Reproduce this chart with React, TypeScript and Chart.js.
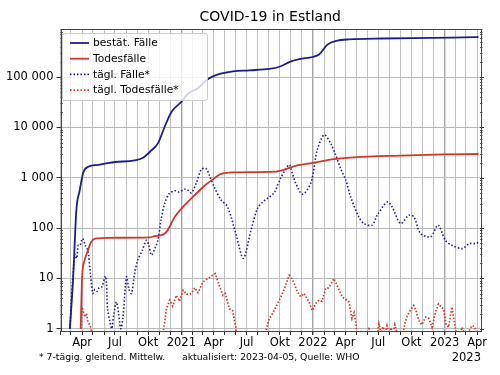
import React, { useEffect, useRef } from 'react';
import { Chart, registerables } from 'chart.js';

Chart.register(...registerables);

// ---- data ----
const casesDates = [
  '2020-02-27', '2020-03-07', '2020-03-16', '2020-03-25', '2020-04-04', '2020-04-18', '2020-05-15',
  '2020-06-03', '2020-07-01', '2020-08-25', '2020-09-17', '2020-10-10', '2020-10-28', '2020-11-16',
  '2020-12-05', '2021-01-01', '2021-01-20', '2021-02-16', '2021-03-07', '2021-03-20', '2021-04-17',
  '2021-05-24', '2021-07-09', '2021-09-02', '2021-09-30', '2021-11-01', '2021-11-24', '2021-12-31',
  '2022-01-18', '2022-02-10', '2022-03-09', '2022-04-11', '2022-07-12', '2022-11-27', '2023-03-27',
  '2023-04-05',
];
const casesValues = [
  1, 10, 228, 550, 1250, 1650, 1800,
  1900, 2050, 2200, 2500, 3500, 4800, 10400,
  20500, 32000, 47000, 60000, 81000, 95000, 115000,
  130000, 136000, 145000, 160000, 205000, 228000, 250000,
  280000, 440000, 530000, 560000, 583000, 600000, 620000,
  621000,
];

const deathsDates = [
  '2020-03-28', '2020-04-01', '2020-04-08', '2020-04-17', '2020-04-26', '2020-05-10', '2020-06-16',
  '2020-10-05', '2020-10-19', '2020-11-07', '2020-11-21', '2020-12-14', '2021-01-10', '2021-02-07',
  '2021-03-07', '2021-04-02', '2021-04-21', '2021-05-28', '2021-09-16', '2021-10-14', '2021-11-11',
  '2022-01-05', '2022-03-01', '2022-04-25', '2022-09-01', '2022-12-30', '2023-04-05',
];
const deathsValues = [
  1, 10.7, 23, 36, 53, 62, 64,
  65, 69, 72, 84, 167, 285, 450,
  700, 970, 1190, 1280, 1320, 1450, 1700,
  1990, 2330, 2540, 2750, 2900, 2960,
];

const dailyCasesDates = [
  '2020-02-27', '2020-03-05', '2020-03-12', '2020-03-17', '2020-03-21', '2020-03-26', '2020-04-02',
  '2020-04-10', '2020-04-17', '2020-04-24', '2020-05-01', '2020-05-06', '2020-05-12', '2020-05-18',
  '2020-05-25', '2020-06-05', '2020-06-11', '2020-06-17', '2020-06-22', '2020-06-28', '2020-07-05',
  '2020-07-11', '2020-07-17', '2020-07-23', '2020-08-02', '2020-08-09', '2020-08-16', '2020-08-24',
  '2020-09-02', '2020-09-14', '2020-09-26', '2020-10-03', '2020-10-10', '2020-10-20', '2020-10-28',
  '2020-11-06', '2020-11-16', '2020-11-28', '2020-12-14', '2020-12-26', '2021-01-10', '2021-01-20',
  '2021-01-29', '2021-02-12', '2021-02-25', '2021-03-10', '2021-03-20', '2021-04-02', '2021-04-21',
  '2021-05-09', '2021-06-01', '2021-06-22', '2021-07-13', '2021-07-31', '2021-08-15', '2021-08-28',
  '2021-09-15', '2021-10-04', '2021-10-27', '2021-11-05', '2021-11-14', '2021-12-03', '2021-12-26',
  '2022-01-13', '2022-02-01', '2022-02-19', '2022-03-05', '2022-03-19', '2022-04-02', '2022-04-15',
  '2022-05-08', '2022-05-22', '2022-06-14', '2022-06-28', '2022-07-26', '2022-08-08', '2022-09-01',
  '2022-09-24', '2022-10-08', '2022-10-26', '2022-11-23', '2022-12-14', '2023-01-03', '2023-01-22',
  '2023-02-19', '2023-03-10', '2023-03-28', '2023-04-05',
];
const dailyCasesValues = [
  1, 8, 30, 25, 45, 45, 62,
  45, 36, 12, 5, 6, 5.5, 6.5,
  6.7, 11, 2.3, 1.4, 1, 2, 3.4,
  2, 1, 1.6, 10.7, 6, 5, 12,
  23, 35, 57, 45, 29, 40, 57,
  150, 310, 480, 550, 520, 590, 560,
  500, 800, 1440, 1530, 1100, 660, 360,
  265, 78, 25, 90, 245, 330, 390,
  500, 1000, 1800, 1200, 780, 470, 780,
  3600, 7100, 4800, 2800, 1500, 900, 420,
  167, 123, 114, 180, 330, 265, 123,
  180, 167, 78, 67, 114, 57, 45,
  39, 49, 49, 52,
];

const dailyDeathsDates = [
  '2020-03-29', '2020-04-01', '2020-04-05', '2020-04-09', '2020-04-13', '2020-04-17', '2020-04-22',
  '2020-04-26', '2020-04-29', '2020-05-02',
  '2020-11-09', '2020-11-13', '2020-11-21', '2020-11-30', '2020-12-08', '2020-12-18', '2020-12-27',
  '2021-01-06', '2021-01-16', '2021-01-29', '2021-02-07', '2021-02-16', '2021-03-02', '2021-03-12',
  '2021-03-29', '2021-04-05', '2021-04-14', '2021-04-26', '2021-05-03', '2021-05-14', '2021-05-23',
  '2021-06-01', '2021-06-05', '2021-06-08',
  '2021-08-21', '2021-08-25', '2021-09-02', '2021-09-11', '2021-09-21', '2021-10-04', '2021-10-13',
  '2021-10-27', '2021-11-03', '2021-11-10', '2021-11-18', '2021-11-28', '2021-12-07', '2021-12-21',
  '2021-12-30', '2022-01-09', '2022-01-18', '2022-01-26', '2022-02-05', '2022-02-14', '2022-02-28',
  '2022-03-08', '2022-03-23', '2022-04-02', '2022-04-11', '2022-04-19', '2022-04-25', '2022-04-30',
  '2022-05-04', '2022-06-01', '2022-06-05', '2022-06-09', '2022-06-27', '2022-07-03', '2022-07-09',
  '2022-07-14', '2022-07-20', '2022-07-25', '2022-07-30', '2022-08-05', '2022-08-11', '2022-08-16',
  '2022-08-27', '2022-09-04', '2022-09-13', '2022-09-19', '2022-09-26', '2022-10-07', '2022-10-13',
  '2022-10-21', '2022-10-30', '2022-11-09', '2022-11-18', '2022-11-27', '2022-12-07', '2022-12-15',
  '2022-12-24', '2022-12-29', '2023-01-05', '2023-01-12', '2023-01-21', '2023-01-31', '2023-02-09',
  '2023-02-18', '2023-02-28', '2023-03-18', '2023-03-25', '2023-03-31', '2023-04-05',
];
const dailyDeathsValues: (number | null)[] = [
  1, 2.7, 2.0, 1.7, 2.0, 1.35, 1.2,
  1, 0.7, null,
  0.7, 1, 2.5, 3.7, 2.8, 4.6, 3.5,
  5.8, 4.8, 5, 6.5, 5.2, 8.5, 9.5,
  11.5, 12.4, 8, 4.6, 5, 2.5, 2.3,
  1.07, 0.6, null,
  0.7, 1, 1.6, 2, 2.8, 4.3, 6,
  11.5, 10, 7.9, 5.5, 4.3, 5, 3.4,
  2.3, 3.2, 3.7, 3.5, 6.3, 6.5, 9.9,
  7.5, 4.3, 3.8, 3.4, 1.6, 2.1, 1.3,
  0.6, 0.6, 1.08, 0.6, 0.6, 1.25, 0.8,
  1.1, 0.8, 1.15, 0.8, 1.05, 0.8, 1.2,
  0.6, 0.6, 1.3, 1.8, 2.2, 2.9, 2.4,
  1.46, 1.2, 1.7, 1.6, 1.07, 2.2, 3.1,
  2.6, 2.5, 1.2, 1.07, 2.7, 1.0, 0.6,
  1.07, 0.7, 1.16, 1.1, 0.8, 0.9,
];

const monthNames: Record<number, string> = { 3: 'Apr', 6: 'Jul', 9: 'Okt' };
const yTickValues = [1, 10, 100, 1000, 10000, 100000];
const legendLabels = ['bestät. Fälle', 'Todesfälle', 'tägl. Fälle*', 'tägl. Todesfälle*'];
const titleText = 'COVID-19 in Estland';
const footLeft = '* 7-tägig. gleitend. Mittelw.';
const footRight = 'aktualisiert: 2023-04-05, Quelle: WHO';
const lastYearLabel = '2023';

// ---- helpers ----
const EPOCH = Date.UTC(2020, 1, 1);
const dayOf = (s: string) => {
  const [y, m, d] = s.split('-').map(Number);
  return (Date.UTC(y, m - 1, d) - EPOCH) / 86400000;
};
const toPoints = (dates: string[], vals: (number | null)[]) =>
  dates.map((d, i) => ({ x: dayOf(d), y: vals[i] as any }));

const monthTicks: { value: number; label: string; year: boolean }[] = [];
for (let y = 2020; y <= 2023; y++) {
  for (let m = 0; m < 12; m++) {
    if (y === 2020 && m < 1) continue;
    if (y === 2023 && m > 3) continue;
    const v = (Date.UTC(y, m, 1) - EPOCH) / 86400000;
    monthTicks.push({ value: v, label: m === 0 ? String(y) : monthNames[m] || '', year: m === 0 });
  }
}

const BLUE = '#1c1c8e';
const RED = '#d4352a';
const FONT = '"DejaVu Sans", Verdana, sans-serif';

const fmt = (v: number) => String(v).replace(/\B(?=(\d{3})+(?!\d))/g, ' ');
const findTick = (v: number) => monthTicks.find((m) => Math.abs(m.value - v) < 0.01);

export default function App() {
  const ref = useRef<HTMLCanvasElement>(null);
  useEffect(() => {
    document.body.style.margin = '0';
    const overlay = {
      id: 'overlay',
      afterDraw(chart: any) {
        const { ctx, chartArea: a } = chart;
        const ys = chart.scales.y;
        ctx.save();
        // minor ticks
        ctx.strokeStyle = '#333';
        ctx.lineWidth = 0.8;
        for (let e = 0; e <= 5; e++) {
          for (let k = 2; k <= 9; k++) {
            const v = k * Math.pow(10, e);
            if (v > 9e5) continue;
            const py = Math.round(ys.getPixelForValue(v)) + 0.5;
            ctx.beginPath();
            ctx.moveTo(a.left, py); ctx.lineTo(a.left + 2.5, py);
            ctx.moveTo(a.right, py); ctx.lineTo(a.right + 2.5, py);
            ctx.stroke();
          }
        }
        // right major ticks
        ctx.lineWidth = 1;
        yTickValues.forEach((v) => {
          const py = Math.round(ys.getPixelForValue(v)) + 0.5;
          ctx.beginPath(); ctx.moveTo(a.right, py); ctx.lineTo(a.right + 4, py); ctx.stroke();
        });
        // frame
        ctx.strokeStyle = '#444';
        ctx.lineWidth = 1;
        ctx.strokeRect(Math.round(a.left) + 0.5, Math.round(a.top) + 0.5, Math.round(a.right - a.left), Math.round(a.bottom - a.top));
        // legend
        const lx = 62.5, ly = 33.5, lw = 145, lh = 67;
        ctx.fillStyle = 'rgba(255,255,255,0.8)';
        ctx.strokeStyle = 'rgba(200,200,200,0.9)';
        ctx.beginPath();
        if ((ctx as any).roundRect) (ctx as any).roundRect(lx, ly, lw, lh, 2); else ctx.rect(lx, ly, lw, lh);
        ctx.fill(); ctx.stroke();
        const cols = [BLUE, RED, BLUE, RED];
        ctx.font = `10.7px ${FONT}`;
        ctx.textBaseline = 'middle';
        ctx.textAlign = 'left';
        legendLabels.forEach((t, i) => {
          const y = 43 + i * 15.7;
          ctx.strokeStyle = cols[i];
          ctx.lineWidth = i < 2 ? 1.8 : 1.6;
          ctx.setLineDash(i < 2 ? [] : [1.5, 2]);
          ctx.beginPath(); ctx.moveTo(70, y); ctx.lineTo(89, y); ctx.stroke();
          ctx.setLineDash([]);
          ctx.fillStyle = '#000';
          ctx.fillText(t, 93, y + 0.5);
        });
        // title
        ctx.font = `14px ${FONT}`;
        ctx.textAlign = 'center';
        ctx.fillStyle = '#000';
        ctx.fillText(titleText, (a.left + a.right) / 2, 17);
        // footers
        ctx.font = `9.3px ${FONT}`;
        ctx.textAlign = 'left';
        ctx.fillText(footLeft, 39, 358);
        ctx.fillText(footRight, 182, 358);
        ctx.font = `11.5px ${FONT}`;
        ctx.textAlign = 'right';
        ctx.fillText(lastYearLabel, 481, 358);
        ctx.restore();
      },
    };

    const chart = new Chart(ref.current!, {
      type: 'line',
      data: {
        datasets: [
          { label: legendLabels[0], data: toPoints(casesDates, casesValues), borderColor: BLUE, borderWidth: 1.8, pointRadius: 0, cubicInterpolationMode: 'monotone' } as any,
          { label: legendLabels[1], data: toPoints(deathsDates, deathsValues), borderColor: RED, borderWidth: 1.8, pointRadius: 0, cubicInterpolationMode: 'monotone' } as any,
          { label: legendLabels[2], data: toPoints(dailyCasesDates, dailyCasesValues), borderColor: BLUE, borderWidth: 1.6, borderDash: [1.5, 2], pointRadius: 0, tension: 0.3, spanGaps: false } as any,
          { label: legendLabels[3], data: toPoints(dailyDeathsDates, dailyDeathsValues), borderColor: RED, borderWidth: 1.7, borderDash: [1.5, 1.8], pointRadius: 0, tension: 0, spanGaps: false } as any,
        ],
      },
      options: {
        animation: false,
        responsive: false,
        maintainAspectRatio: false,
        parsing: false as any,
        layout: { padding: { top: 29, right: 20, left: 0, bottom: 0 } },
        plugins: { legend: { display: false }, tooltip: { enabled: false }, title: { display: false } },
        scales: {
          x: {
            type: 'linear',
            min: 0,
            max: 1163,
            afterBuildTicks: (s: any) => { s.ticks = monthTicks.map((t) => ({ value: t.value })); },
            afterFit: (s: any) => { s.height = 44; },
            ticks: {
              autoSkip: false,
              maxRotation: 0,
              padding: 1,
              color: '#000',
              font: { family: FONT, size: 11.5 },
              callback: (v: any) => {
                const t = findTick(v);
                return t ? t.label : '';
              },
            },
            grid: {
              color: (c: any) => {
                const t = c.tick && findTick(c.tick.value);
                return t && t.year ? '#a4a4a4' : '#c0c0c0';
              },
              lineWidth: (c: any) => {
                const t = c.tick && findTick(c.tick.value);
                return t && t.year ? 1.4 : 1;
              },
              tickColor: '#333',
              tickLength: 4,
            },
            border: { display: false },
          },
          y: {
            type: 'logarithmic',
            min: 0.9,
            max: 9e5,
            afterBuildTicks: (s: any) => { s.ticks = yTickValues.map((v) => ({ value: v })); },
            afterFit: (s: any) => { s.width = 60.5; },
            ticks: {
              padding: 3,
              color: '#000',
              font: { family: FONT, size: 11.5 },
              callback: (v: any) => fmt(Number(v)),
            },
            grid: { color: '#b8b8b8', lineWidth: 1, tickColor: '#333', tickLength: 4 },
            border: { display: false },
          },
        },
      },
      plugins: [overlay],
    } as any);
    return () => chart.destroy();
  }, []);
  return (
    <div style={{ position: 'absolute', left: 0, top: 0, width: 500, height: 375, background: '#fff' }}>
      <canvas ref={ref} width={500} height={375} style={{ width: 500, height: 375, display: 'block' }} />
    </div>
  );
}
